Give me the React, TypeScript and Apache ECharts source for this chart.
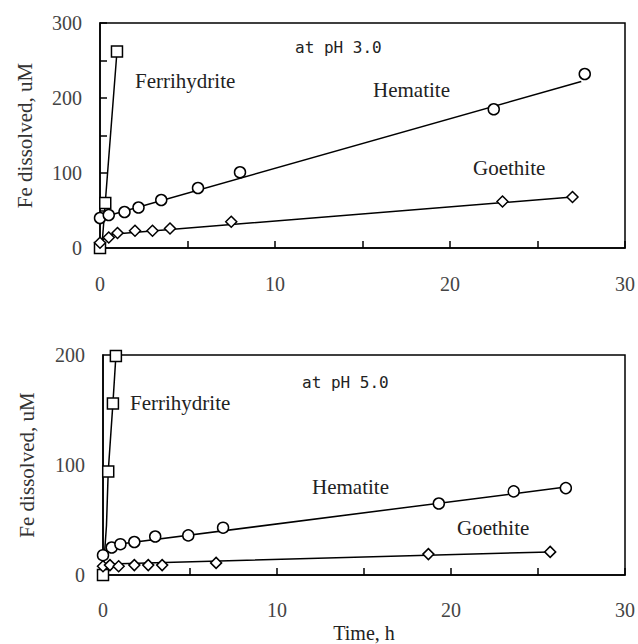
import React, { useEffect, useRef } from "react";
import * as echarts from "echarts";

// ---- Data (time in h, Fe dissolved in uM) ----
// pH 3.0
const ferri3Points: [number, number][] = [[0, 0], [0.3, 60], [0.97, 262]];
const ferri3Line: [number, number][] = [[0.1, 0], [0.3, 60], [0.97, 262]];
const hema3Points: [number, number][] = [[0, 40], [0.5, 44], [1.4, 48], [2.2, 54], [3.5, 64], [5.6, 80], [8.0, 101], [22.5, 185], [27.7, 232]];
const hema3Line: [number, number][] = [[0, 40], [27.5, 222]];
const goe3Points: [number, number][] = [[0, 7], [0.5, 14], [1.0, 20], [2.0, 23], [3.0, 23], [4.0, 26], [7.5, 35], [23, 62], [27, 68]];
const goe3Line: [number, number][] = [[0, 7], [0.5, 18], [27, 68]];

// pH 5.0
const ferri5Points: [number, number][] = [[0, 0], [0.3, 94], [0.57, 156], [0.74, 199]];
const ferri5Line: [number, number][] = [[0, 0], [0.2, 45], [0.3, 94], [0.57, 156], [0.74, 199]];
const hema5Points: [number, number][] = [[0, 18], [0.5, 25], [1.0, 28], [1.8, 30], [3.0, 35], [4.9, 36], [6.9, 43], [19.3, 65], [23.6, 76], [26.6, 79]];
const hema5Line: [number, number][] = [[0, 18], [0.4, 27], [26.6, 80]];
const goe5Points: [number, number][] = [[0, 8], [0.4, 9], [0.9, 8], [1.8, 9], [2.6, 9], [3.4, 9], [6.5, 11], [18.7, 19], [25.7, 21]];
const goe5Line: [number, number][] = [[0, 8], [0.4, 10], [25.7, 21]];

const xTicksMax = 30;
const yMaxTop = 300;
const yMaxBottom = 200;

const SERIF = "'Liberation Serif', 'Times New Roman', serif";
const MONO = "'DejaVu Sans Mono', monospace";

function lineSeries(data: [number, number][], idx: number) {
  return {
    type: "line",
    xAxisIndex: idx,
    yAxisIndex: idx,
    data,
    symbol: "none",
    lineStyle: { color: "#000", width: 1.5 },
    z: 2,
    silent: true,
  };
}

function scatterSeries(data: [number, number][], idx: number, symbol: string, size: number) {
  return {
    type: "scatter",
    xAxisIndex: idx,
    yAxisIndex: idx,
    data,
    symbol,
    symbolSize: size,
    itemStyle: { color: "#fff", borderColor: "#000", borderWidth: 1.5, opacity: 1 },
    z: 3,
  };
}

function xAxis(idx: number, margin: number, name?: string) {
  return {
    type: "value",
    gridIndex: idx,
    min: 0,
    max: xTicksMax,
    interval: 5,
    name: name || "",
    nameLocation: "middle",
    nameGap: 48,
    nameTextStyle: { fontFamily: SERIF, fontSize: 20, color: "#222" },
    axisLine: { show: true, onZero: false, lineStyle: { color: "#000", width: 1.5 } },
    axisTick: { show: true, inside: true, length: 7, lineStyle: { color: "#000", width: 1.5 } },
    axisLabel: {
      formatter: (v: number) => (v % 10 === 0 ? String(v) : ""),
      margin,
      fontFamily: SERIF,
      fontSize: 20,
      lineHeight: 20,
      color: "#444",
    },
    splitLine: { show: false },
  };
}

function yAxis(idx: number, max: number, interval: number, showTicks: boolean, nameGap: number) {
  return {
    type: "value",
    gridIndex: idx,
    min: 0,
    max,
    interval,
    name: "Fe dissolved, uM",
    nameLocation: "middle",
    nameRotate: 90,
    nameGap,
    nameTextStyle: { fontFamily: SERIF, fontSize: 21, color: "#333" },
    axisLine: { show: true, onZero: false, lineStyle: { color: "#000", width: 1.5 } },
    axisTick: { show: showTicks, inside: true, length: 7, lineStyle: { color: "#000", width: 1.5 } },
    axisLabel: {
      formatter: (v: number) => (v % 100 === 0 ? String(v) : ""),
      margin: 18,
      fontFamily: SERIF,
      fontSize: 20,
      color: "#444",
    },
    splitLine: { show: false },
  };
}

function label(text: string, x: number, y: number, font: string, size: number) {
  return {
    type: "text",
    x,
    y,
    silent: true,
    z: 10,
    style: { text, fontFamily: font, fontSize: size, fill: "#222", align: "left", verticalAlign: "middle" },
  };
}

export default function App() {
  const ref = useRef<HTMLDivElement>(null);
  useEffect(() => {
    if (!ref.current) return;
    const chart = echarts.init(ref.current, undefined, { renderer: "svg" });
    chart.setOption({
      animation: false,
      backgroundColor: "#fff",
      grid: [
        { left: 100, top: 23, right: 11, height: 225, show: true, borderColor: "#000", borderWidth: 1.5, backgroundColor: "transparent" },
        { left: 103, top: 355, right: 10, height: 220, show: true, borderColor: "#000", borderWidth: 1.5, backgroundColor: "transparent" },
      ],
      xAxis: [xAxis(0, 26), xAxis(1, 25, "Time, h")],
      yAxis: [yAxis(0, yMaxTop, 50, true, 65), yAxis(1, yMaxBottom, 100, false, 66)],
      series: [
        lineSeries(ferri3Line, 0),
        lineSeries(hema3Line, 0),
        lineSeries(goe3Line, 0),
        scatterSeries(ferri3Points, 0, "rect", 11),
        scatterSeries(hema3Points, 0, "circle", 11),
        scatterSeries(goe3Points, 0, "diamond", 11),
        lineSeries(ferri5Line, 1),
        lineSeries(hema5Line, 1),
        lineSeries(goe5Line, 1),
        scatterSeries(ferri5Points, 1, "rect", 11),
        scatterSeries(hema5Points, 1, "circle", 11),
        scatterSeries(goe5Points, 1, "diamond", 11),
      ],
      graphic: [
        label("at pH 3.0", 295, 47, MONO, 16),
        label("Ferrihydrite", 135, 81, SERIF, 21),
        label("Hematite", 373, 90, SERIF, 21),
        label("Goethite", 473, 168, SERIF, 21),
        label("at pH 5.0", 302, 382, MONO, 16),
        label("Ferrihydrite", 130, 403, SERIF, 21),
        label("Hematite", 312, 487, SERIF, 21),
        label("Goethite", 457, 528, SERIF, 21),
      ],
    });
    return () => chart.dispose();
  }, []);
  return <div ref={ref} style={{ position: "fixed", left: 0, top: 0, width: 638, height: 644 }} />;
}
